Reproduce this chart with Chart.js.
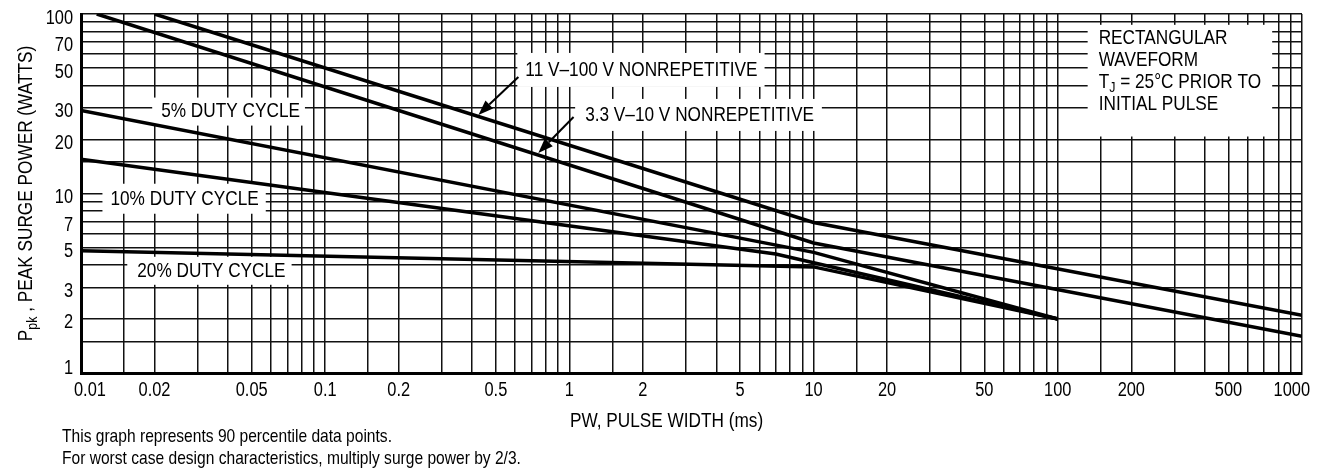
<!DOCTYPE html>
<html>
<head>
<meta charset="utf-8">
<script src="https://cdn.jsdelivr.net/npm/chart.js@4.4.0/dist/chart.umd.min.js"></script>
<style>
    html, body { margin: 0; padding: 0; background: #fff; }
    #wrap { position: relative; width: 1325px; height: 468px; }
    canvas { display: block; }
    .note {
        position: absolute; left: 62px; color: #000; white-space: nowrap;
        font: 19px "Liberation Sans", Arial, sans-serif; line-height: 21.5px;
        transform: scaleX(0.82); transform-origin: 0 0;
    }
</style>
</head>
<body>
<div id="wrap">
    <canvas id="surge" width="1325" height="468"></canvas>
    <div class="note" style="top:425px">This graph represents 90 percentile data points.</div>
    <div class="note" style="top:446.5px">For worst case design characteristics, multiply surge power by 2/3.</div>
</div>
<script>
// 数据 (PW 毫秒, Ppk 瓦)
const pwNonrep11 = [0.02, 10, 1000];
const pkNonrep11 = [100, 6.9, 2.1];
const pwNonrep33 = [0.0116, 10, 1000];
const pkNonrep33 = [100, 5.3, 1.6];
const pwDuty5 = [0.01, 10, 100];
const pkDuty5 = [29, 4.7, 2];
const pwDuty10 = [0.01, 7, 100];
const pkDuty10 = [15.5, 4.6, 2];
const pwDuty20 = [0.01, 10, 100];
const pkDuty20 = [4.8, 3.9, 2];

const xTickLabels = [0.01, 0.02, 0.05, 0.1, 0.2, 0.5, 1, 2, 5, 10, 20, 50, 100, 200, 500, 1000];
const yTickLabels = [1, 2, 3, 5, 7, 10, 20, 30, 50, 70, 100];
const gridSteps = [1, 1.5, 2, 3, 4, 5, 6, 7, 8, 9];

// 窄体效果: Liberation Sans 横向压缩
const FAMILY = '"Liberation Sans", Arial, sans-serif';
const SQUEEZE = 0.82;

// 标注 (位置为数据坐标)
const curveLabels = [
    { text: '5% DUTY CYCLE', pw: 0.0213, pk: 28.6, padL: 9, padR: 5, boxH: 28 },
    { text: '10% DUTY CYCLE', pw: 0.0132, pk: 9.35, padL: 8, padR: 7, boxH: 30 },
    { text: '20% DUTY CYCLE', pw: 0.017, pk: 3.71, padL: 10, padR: 6, boxH: 28 },
    { text: '11 V\u2013100 V NONREPETITIVE', pw: 0.66, pk: 48.8, padL: 8, padR: 7, boxH: 34 },
    { text: '3.3 V\u201310 V NONREPETITIVE', pw: 1.16, pk: 27.4, padL: 10, padR: 8, boxH: 32 }
];
const arrows = [
    { from: [0.618, 44.6], to: [0.424, 27.4] },
    { from: [1.04, 26.7], to: [0.746, 16.8] }
];
const waveNote = {
    pw: 147, pk: 73.2, lineGap: 21.9,
    lines: [
        [{ t: 'RECTANGULAR' }],
        [{ t: 'WAVEFORM' }],
        [{ t: 'T' }, { t: 'J', sub: true }, { t: ' = 25\u00B0C PRIOR TO' }],
        [{ t: 'INITIAL PULSE' }]
    ]
};

function logGrid(min, max) {
    const out = [];
    for (let d = Math.log10(min); d < Math.log10(max) - 1e-9; d++) {
        gridSteps.forEach(s => out.push(s * Math.pow(10, Math.round(d))));
    }
    out.push(max);
    return out;
}

function series(pw, pk) {
    return pw.map((v, i) => ({ x: v, y: pk[i] }));
}

// 带下标的压缩文字
function richWidth(ctx, parts, size) {
    let total = 0;
    parts.forEach(p => {
        ctx.font = (p.sub ? size * 0.72 : size) + 'px ' + FAMILY;
        total += ctx.measureText(p.t).width;
    });
    return total * SQUEEZE;
}

function richText(ctx, parts, x, y, size, align) {
    const w = richWidth(ctx, parts, size);
    let start = x;
    if (align === 'center') start = x - w / 2;
    if (align === 'right') start = x - w;
    ctx.save();
    ctx.translate(start, y);
    ctx.scale(SQUEEZE, 1);
    ctx.textAlign = 'left';
    let cx = 0;
    parts.forEach(p => {
        ctx.font = (p.sub ? size * 0.72 : size) + 'px ' + FAMILY;
        ctx.fillText(p.t, cx, p.sub ? size * 0.25 : 0);
        cx += ctx.measureText(p.t).width;
    });
    ctx.restore();
}

function drawArrow(ctx, x1, y1, x2, y2) {
    const a = Math.atan2(y2 - y1, x2 - x1);
    const len = 15, half = 5.5;
    const bx = x2 - len * Math.cos(a), by = y2 - len * Math.sin(a);
    ctx.lineWidth = 2;
    ctx.beginPath();
    ctx.moveTo(x1, y1);
    ctx.lineTo(bx, by);
    ctx.stroke();
    ctx.beginPath();
    ctx.moveTo(x2, y2);
    ctx.lineTo(bx + half * Math.sin(a), by - half * Math.cos(a));
    ctx.lineTo(bx - half * Math.sin(a), by + half * Math.cos(a));
    ctx.closePath();
    ctx.fill();
}

function noteBox(ctx, x, y) {
    const px = x.getPixelForValue(waveNote.pw), py = y.getPixelForValue(waveNote.pk);
    const w = Math.max(...waveNote.lines.map(l => richWidth(ctx, l, 21)));
    return {
        px, py,
        left: px - 11, right: px + w + 11,
        top: py - 13.5, bottom: py + (waveNote.lines.length - 1) * waveNote.lineGap + 32.5
    };
}

const annotations = {
    id: 'annotations',
    beforeDatasetsDraw(chart) {
        const { ctx, scales: { x, y } } = chart;
        ctx.save();
        ctx.fillStyle = '#fff';
        curveLabels.forEach(l => {
            const px = x.getPixelForValue(l.pw), py = y.getPixelForValue(l.pk);
            const w = richWidth(ctx, [{ t: l.text }], 21);
            ctx.fillRect(px - l.padL, py - l.boxH / 2, w + l.padL + l.padR, l.boxH);
        });
        const b = noteBox(ctx, x, y);
        ctx.fillRect(b.left, b.top, b.right - b.left, b.bottom - b.top);
        ctx.restore();
    },
    afterDatasetsDraw(chart) {
        const { ctx, scales: { x, y } } = chart;
        ctx.save();
        ctx.fillStyle = '#000';
        ctx.strokeStyle = '#000';
        ctx.textBaseline = 'middle';
        curveLabels.forEach(l => {
            richText(ctx, [{ t: l.text }], x.getPixelForValue(l.pw), y.getPixelForValue(l.pk), 21, 'left');
        });
        const b = noteBox(ctx, x, y);
        waveNote.lines.forEach((line, i) => {
            richText(ctx, line, b.px, b.py + i * waveNote.lineGap, 21, 'left');
        });
        arrows.forEach(a => {
            drawArrow(ctx,
                x.getPixelForValue(a.from[0]), y.getPixelForValue(a.from[1]),
                x.getPixelForValue(a.to[0]), y.getPixelForValue(a.to[1]));
        });
        ctx.restore();
    },
    afterDraw(chart) {
        const { ctx, chartArea, scales: { x, y } } = chart;
        ctx.save();
        ctx.fillStyle = '#000';
        ctx.textBaseline = 'middle';
        // 刻度标签
        yTickLabels.forEach(v => {
            const py = Math.min(y.getPixelForValue(v) + 4, chartArea.bottom - 5);
            richText(ctx, [{ t: String(v) }], chartArea.left - 8, py, 20, 'right');
        });
        xTickLabels.forEach(v => {
            const t = String(v);
            const w = richWidth(ctx, [{ t }], 20);
            let px = x.getPixelForValue(v);
            px = Math.max(px, chartArea.left - 7 + w / 2);
            px = Math.min(px, chartArea.right + 8 - w / 2);
            richText(ctx, [{ t }], px, chartArea.bottom + 17, 20, 'center');
        });
        // 轴标题
        ctx.textBaseline = 'alphabetic';
        richText(ctx, [{ t: 'PW, PULSE WIDTH (ms)' }], x.getPixelForValue(2.5), chartArea.bottom + 54, 21, 'center');
        ctx.translate(31.5, (chartArea.top + chartArea.bottom) / 2);
        ctx.rotate(-Math.PI / 2);
        richText(ctx, [{ t: 'P' }, { t: 'pk', sub: true }, { t: ' , PEAK SURGE POWER (WATTS)' }], 0, 0, 21, 'center');
        ctx.restore();
    }
};

const lineStyle = { borderColor: '#000', borderWidth: 3.5, pointRadius: 0, fill: false, tension: 0 };
const gridStyle = { color: '#111', lineWidth: 1.5, drawTicks: false };

new Chart(document.getElementById('surge'), {
    type: 'line',
    data: {
        datasets: [
            { label: '11 V-100 V', data: series(pwNonrep11, pkNonrep11), ...lineStyle },
            { label: '3.3 V-10 V', data: series(pwNonrep33, pkNonrep33), ...lineStyle },
            { label: '5%', data: series(pwDuty5, pkDuty5), ...lineStyle },
            { label: '10%', data: series(pwDuty10, pkDuty10), ...lineStyle },
            { label: '20%', data: series(pwDuty20, pkDuty20), ...lineStyle }
        ]
    },
    options: {
        responsive: false,
        animation: false,
        layout: { padding: { top: 14, right: 23, left: 0, bottom: 0 } },
        plugins: { legend: { display: false }, tooltip: { enabled: false } },
        scales: {
            x: {
                type: 'logarithmic', min: 0.01, max: 1000,
                afterBuildTicks: s => { s.ticks = logGrid(0.01, 1000).map(v => ({ value: v })); },
                afterFit: s => { s.height = 95; },
                grid: gridStyle,
                border: { display: true, color: '#000', width: 3 },
                ticks: { display: false, autoSkip: false }
            },
            y: {
                type: 'logarithmic', min: 1, max: 100,
                afterBuildTicks: s => { s.ticks = logGrid(1, 100).map(v => ({ value: v })); },
                afterFit: s => { s.width = 81; },
                grid: gridStyle,
                border: { display: true, color: '#000', width: 3 },
                ticks: { display: false, autoSkip: false }
            }
        }
    },
    plugins: [annotations]
});
</script>
</body>
</html>
